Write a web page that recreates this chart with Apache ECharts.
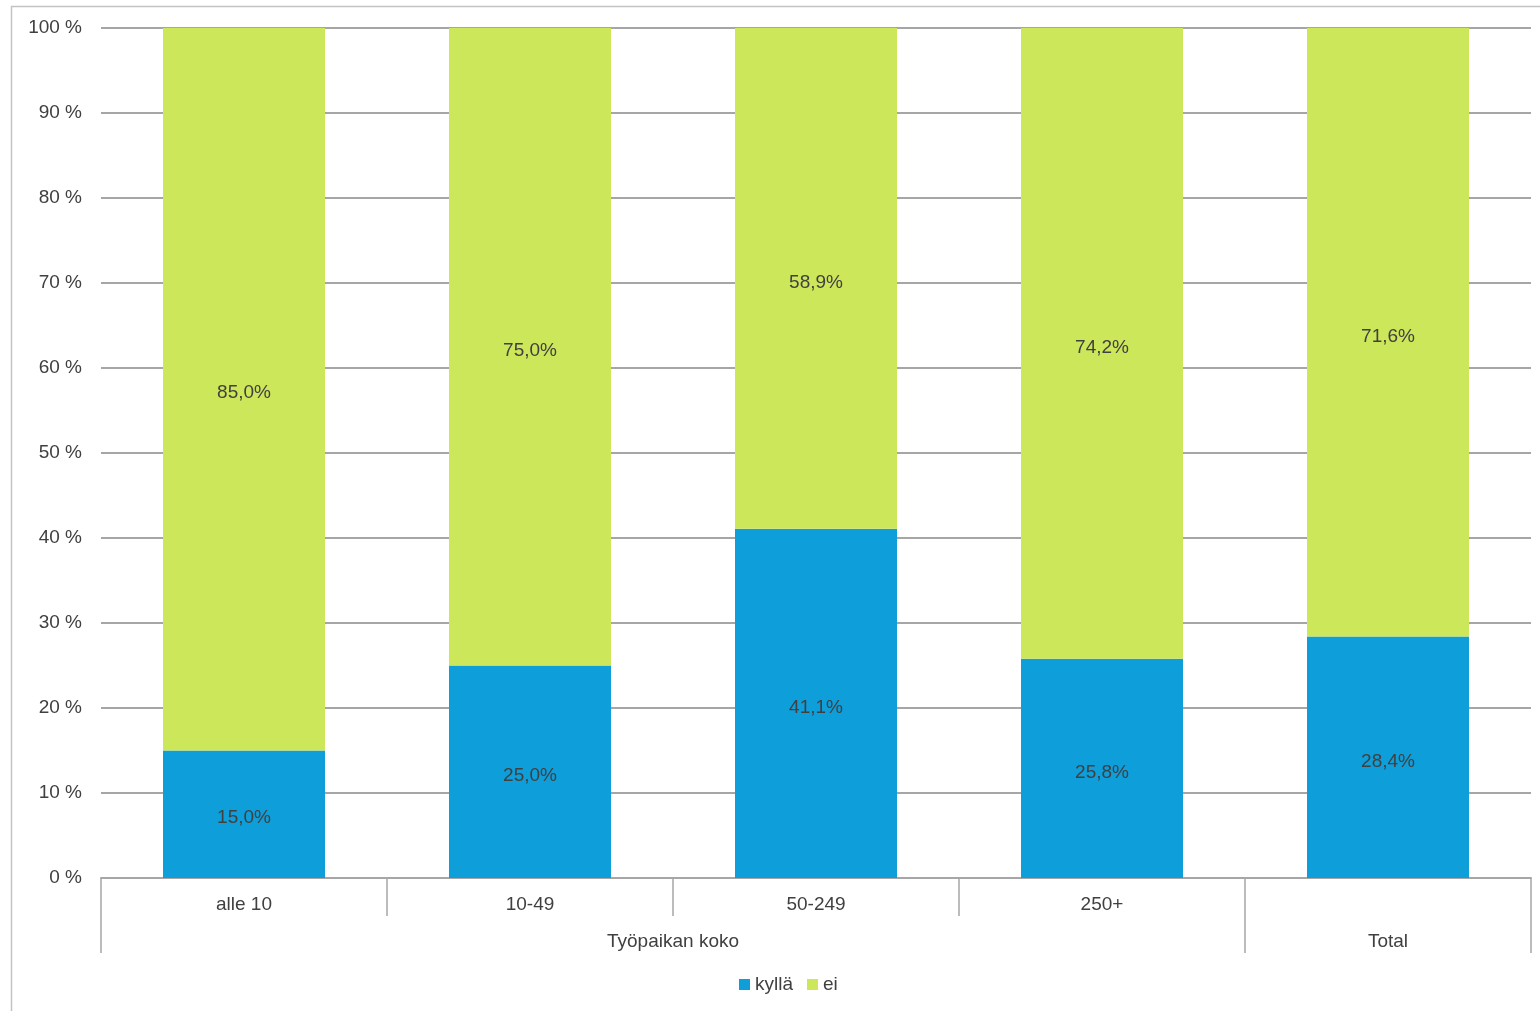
<!DOCTYPE html>
<html>
<head>
<meta charset="utf-8">
<script src="https://cdn.jsdelivr.net/npm/echarts@6/dist/echarts.min.js"></script>
<style>
  html, body { margin: 0; padding: 0; background: #fff; }
  #chart { width: 1540px; height: 1011px; }
</style>
</head>
<body>
<div id="chart"></div>
<script>
var categories = ['alle 10', '10-49', '50-249', '250+', ''];
var kylla = [15.0, 25.0, 41.1, 25.8, 28.4];
var ei = [85.0, 75.0, 58.9, 74.2, 71.6];
// second level of the x axis: group name and the span it covers (in category units)
var groups = [
    { name: 'Työpaikan koko', from: 0, to: 4 },
    { name: 'Total', from: 4, to: 5 }
];

var font = 'Liberation Sans, Arial, sans-serif';
var textColor = '#404040';
var lineColor = '#a6a6a6';

function fmt(v) {
    return v.toFixed(1).replace('.', ',') + '%';
}

var groupEdges = [0];
var groupMids = [];
groups.forEach(function (g) {
    groupEdges.push(g.to);
    groupMids.push((g.from + g.to) / 2);
});

var chart = echarts.init(document.getElementById('chart'));

var option = {
    backgroundColor: '#fff',
    animation: false,
    textStyle: { fontFamily: font },
    graphic: [{
        type: 'rect',
        shape: { x: 11.5, y: 6.5, width: 1540, height: 1020 },
        style: { fill: 'none', stroke: '#c3c3c3', lineWidth: 1.5 },
        silent: true
    }],
    grid: {
        left: 101,
        right: 9,
        top: 28,
        bottom: 133,
        containLabel: false
    },
    legend: {
        left: 734,
        top: 970,
        itemWidth: 11,
        itemHeight: 11,
        itemGap: 14,
        icon: 'rect',
        textStyle: { fontSize: 19, color: textColor, fontFamily: font },
        data: ['kyllä', 'ei']
    },
    xAxis: [{
        type: 'category',
        data: categories,
        position: 'bottom',
        axisLine: { lineStyle: { color: lineColor, width: 2 } },
        axisTick: { show: true, length: 38, lineStyle: { color: lineColor, width: 1.5 } },
        axisLabel: { fontSize: 19, color: textColor, margin: 17, fontFamily: font }
    }, {
        type: 'value',
        min: 0,
        max: categories.length,
        position: 'bottom',
        axisLine: { show: false },
        splitLine: { show: false },
        axisTick: {
            show: true,
            length: 75,
            customValues: groupEdges,
            lineStyle: { color: lineColor, width: 1.5 }
        },
        axisLabel: {
            fontSize: 19,
            color: textColor,
            margin: 54,
            fontFamily: font,
            customValues: groupMids,
            formatter: function (v) {
                for (var i = 0; i < groups.length; i++) {
                    if (Math.abs(groupMids[i] - v) < 1e-6) return groups[i].name;
                }
                return '';
            }
        }
    }],
    yAxis: {
        type: 'value',
        min: 0,
        max: 100,
        interval: 10,
        axisLine: { show: false },
        axisTick: { show: false },
        axisLabel: {
            fontSize: 19,
            color: textColor,
            margin: 19,
            fontFamily: font,
            formatter: '{value} %'
        },
        splitLine: { lineStyle: { color: lineColor, width: 2 } }
    },
    series: [{
        name: 'kyllä',
        type: 'bar',
        stack: 'total',
        xAxisIndex: 0,
        barWidth: 162,
        data: kylla,
        itemStyle: { color: '#0e9ed9' },
        label: {
            show: true,
            position: 'inside',
            offset: [0, 4],
            fontSize: 19,
            color: textColor,
            fontFamily: font,
            formatter: function (p) { return fmt(p.value); }
        }
    }, {
        name: 'ei',
        type: 'bar',
        stack: 'total',
        xAxisIndex: 0,
        barWidth: 162,
        data: ei,
        itemStyle: { color: '#cde75a' },
        label: {
            show: true,
            position: 'inside',
            offset: [0, 4],
            fontSize: 19,
            color: textColor,
            fontFamily: font,
            formatter: function (p) { return fmt(p.value); }
        }
    }]
};

chart.setOption(option);
</script>
</body>
</html>
